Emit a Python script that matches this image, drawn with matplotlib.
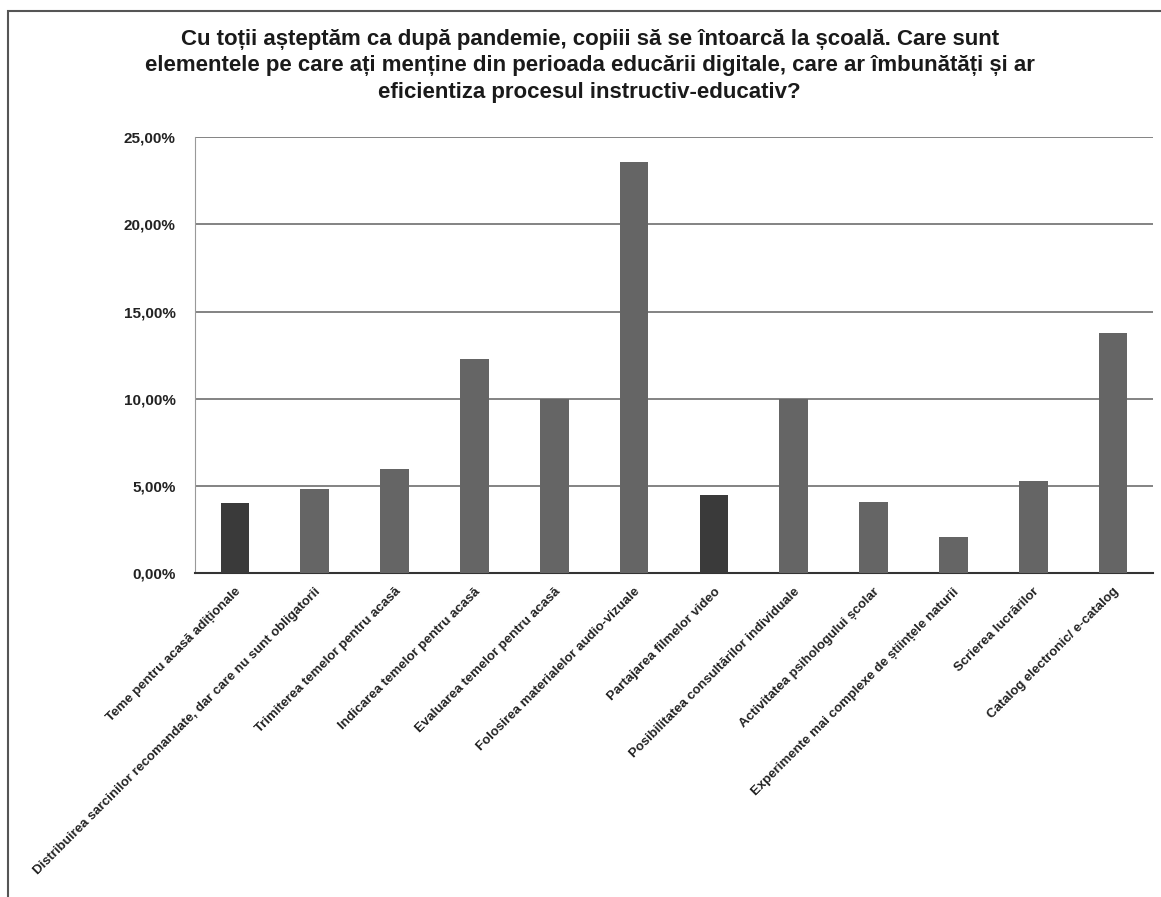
import numpy as np
import matplotlib
matplotlib.use('Agg')
from matplotlib import pyplot as plt
from matplotlib.ticker import FuncFormatter
from matplotlib.patches import Rectangle

plt.rcParams['font.family'] = ['Liberation Sans', 'DejaVu Sans']

title = ('Cu toții așteptăm ca după pandemie, copiii să se întoarcă la școală. Care sunt\n'
         'elementele pe care ați menține din perioada educării digitale, care ar îmbunătăți și ar\n'
         'eficientiza procesul instructiv-educativ?')

categories = [
    'Teme pentru acasă adiționale',
    'Distribuirea sarcinilor recomandate, dar care nu sunt obligatorii',
    'Trimiterea temelor pentru acasă',
    'Indicarea temelor pentru acasă',
    'Evaluarea temelor pentru acasă',
    'Folosirea materialelor audio-vizuale',
    'Partajarea filmelor video',
    'Posibilitatea consultărilor individuale',
    'Activitatea psihologului școlar',
    'Experimente mai complexe de științele naturii',
    'Scrierea lucrărilor',
    'Catalog electronic/ e-catalog',
]
values = [4.0, 4.8, 6.0, 12.3, 10.0, 23.6, 4.5, 10.0, 4.1, 2.1, 5.3, 13.8]
yticks = [0, 5, 10, 15, 20, 25]

fig = plt.figure(figsize=(11.61, 8.97), dpi=100)
ax = fig.add_axes([0.168, 0.361, 0.825, 0.486])

colors = ['#3a3a3a' if i in (0, 6) else '#656565' for i in range(len(values))]
x = np.arange(len(categories))
ax.bar(x, values, 0.36, color=colors, zorder=3)

ax.set_xlim(-0.5, len(categories) - 0.5)
ax.set_ylim(0, 25)
ax.set_yticks(yticks)
ax.yaxis.set_major_formatter(FuncFormatter(lambda v, p: ('%.2f%%' % v).replace('.', ',')))
ax.grid(axis='y', color='#7a7a7a', linewidth=1.3, zorder=0)
ax.set_axisbelow(True)

ax.set_xticks(x)
ax.set_xticklabels(categories, rotation=45, ha='right', rotation_mode='anchor',
                   fontsize=9.5, fontweight='bold', color='#222222')
ax.tick_params(axis='x', length=0, pad=9)
ax.tick_params(axis='y', length=0, labelsize=11, pad=14)
for lab in ax.get_yticklabels():
    lab.set_fontweight('bold')
    lab.set_color('#222222')

for s in ['top', 'right']:
    ax.spines[s].set_visible(False)
ax.spines['left'].set_color('#999999')
ax.spines['bottom'].set_color('#333333')
ax.spines['bottom'].set_linewidth(1.5)

fig.text(0.508, 0.968, title, ha='center', va='top', fontsize=16,
         fontweight='bold', linespacing=1.35, color='#1a1a1a')

# outer frame of the chart
fig.patches.append(Rectangle((0.007, -0.01), 1.0, 0.998, transform=fig.transFigure,
                             fill=False, edgecolor='#555555', linewidth=1.5))

plt.savefig('out.png', dpi=100)
